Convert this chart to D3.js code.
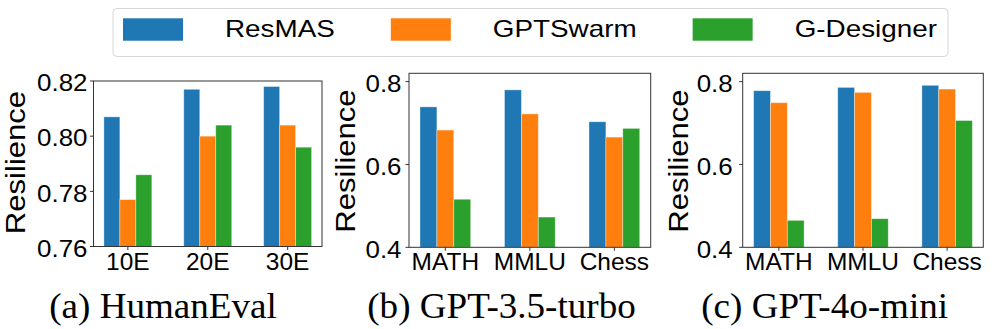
<!DOCTYPE html>
<html>
<head>
<meta charset="utf-8">
<script src="https://cdn.jsdelivr.net/npm/d3@7"></script>
<style>
  html, body { margin: 0; padding: 0; background: #fff; }
  svg { display: block; }
</style>
</head>
<body>
<svg id="chart" width="996" height="329"></svg>
<script>
// ---------------- DATA ----------------
const seriesNames = ["ResMAS", "GPTSwarm", "G-Designer"];
const seriesColors = ["#1f77b4", "#ff7f0e", "#2ca02c"];

const humanEvalCategories = ["10E", "20E", "30E"];
const humanEvalResMAS    = [0.807, 0.817, 0.818];
const humanEvalGPTSwarm  = [0.777, 0.800, 0.804];
const humanEvalGDesigner = [0.786, 0.804, 0.796];
const humanEvalTicks = [0.76, 0.78, 0.80, 0.82];

const taskCategories = ["MATH", "MMLU", "Chess"];
const gpt35ResMAS    = [0.739, 0.780, 0.703];
const gpt35GPTSwarm  = [0.683, 0.722, 0.666];
const gpt35GDesigner = [0.516, 0.473, 0.687];

const gpt4oResMAS    = [0.778, 0.786, 0.791];
const gpt4oGPTSwarm  = [0.749, 0.774, 0.782];
const gpt4oGDesigner = [0.465, 0.469, 0.706];
const modelTicks = [0.4, 0.6, 0.8];

const panelTitles = ["(a) HumanEval", "(b) GPT-3.5-turbo", "(c) GPT-4o-mini"];
const yLabel = "Resilience";

// ---------------- LAYOUT ----------------
const panels = [
  { cats: humanEvalCategories, vals: [humanEvalResMAS, humanEvalGPTSwarm, humanEvalGDesigner],
    yDomain: [0.76, 0.82], ticks: humanEvalTicks, fmt: d3.format(".2f"),
    left: 93.5, right: 322, top: 81, bottom: 246.5, tickGap: 6,
    yLabelX: 25, yLabelY: 162.5, titleX: 163 },
  { cats: taskCategories, vals: [gpt35ResMAS, gpt35GPTSwarm, gpt35GDesigner],
    yDomain: [0.4, 0.82], ticks: modelTicks, fmt: d3.format(".1f"),
    left: 409, right: 650.7, top: 73.3, bottom: 247.3, tickGap: 7.5,
    yLabelX: 355, yLabelY: 161, titleX: 501.5 },
  { cats: taskCategories, vals: [gpt4oResMAS, gpt4oGPTSwarm, gpt4oGDesigner],
    yDomain: [0.4, 0.82], ticks: modelTicks, fmt: d3.format(".1f"),
    left: 742.7, right: 983.3, top: 73.3, bottom: 247.3, tickGap: 10,
    yLabelX: 688, yLabelY: 161, titleX: 824.7 }
];

const sansFont = "'Liberation Sans', Arial, Helvetica, sans-serif";
const serifFont = "'Liberation Serif', 'Times New Roman', Times, serif";
const barW = 0.2;

const svg = d3.select("#chart");

panels.forEach((p, pi) => {
  const x = d3.scaleLinear().domain([-0.43, p.cats.length - 1 + 0.43]).range([p.left, p.right]);
  const y = d3.scaleLinear().domain(p.yDomain).range([p.bottom, p.top]);
  const g = svg.append("g");

  // bars
  p.vals.forEach((arr, si) => {
    g.selectAll(null)
      .data(arr)
      .enter()
      .append("rect")
      .attr("x", (d, i) => x(i + (si - 1) * barW - barW / 2))
      .attr("width", x(barW) - x(0))
      .attr("y", d => y(d))
      .attr("height", d => y(p.yDomain[0]) - y(d))
      .attr("fill", seriesColors[si])
      .attr("stroke", "#ffffff")
      .attr("stroke-opacity", 0.45)
      .attr("stroke-width", 0.8);
  });

  // spines
  g.append("rect")
    .attr("x", p.left).attr("y", p.top)
    .attr("width", p.right - p.left).attr("height", p.bottom - p.top)
    .attr("fill", "none").attr("stroke", "#333").attr("stroke-width", 1);

  // y ticks
  p.ticks.forEach(t => {
    g.append("line")
      .attr("x1", p.left - 3.5).attr("x2", p.left)
      .attr("y1", y(t)).attr("y2", y(t))
      .attr("stroke", "#333").attr("stroke-width", 1);
    g.append("text")
      .attr("transform", `translate(${p.left - p.tickGap},${y(t) + 10.3}) scale(1.08,1)`)
      .attr("text-anchor", "end")
      .attr("font-family", sansFont)
      .attr("font-size", 24)
      .attr("fill", "#000")
      .text(p.fmt(t));
  });

  // x ticks
  p.cats.forEach((c, i) => {
    g.append("line")
      .attr("x1", x(i)).attr("x2", x(i))
      .attr("y1", p.bottom).attr("y2", p.bottom + 3.5)
      .attr("stroke", "#333").attr("stroke-width", 1);
    g.append("text")
      .attr("transform", `translate(${x(i)},270) scale(1.02,1)`)
      .attr("text-anchor", "middle")
      .attr("font-family", sansFont)
      .attr("font-size", 24)
      .attr("fill", "#000")
      .text(c);
  });

  // y label
  g.append("text")
    .attr("transform", `translate(${p.yLabelX},${p.yLabelY}) rotate(-90) scale(1.13,1)`)
    .attr("text-anchor", "middle")
    .attr("font-family", sansFont)
    .attr("font-size", 27.5)
    .attr("fill", "#000")
    .text(yLabel);

  // subtitle
  svg.append("text")
    .attr("transform", `translate(${p.titleX},318) scale(1.06,1)`)
    .attr("text-anchor", "middle")
    .attr("font-family", serifFont)
    .attr("font-size", 35)
    .attr("fill", "#000")
    .text(panelTitles[pi]);
});

// ---------------- LEGEND ----------------
const legend = svg.append("g");
legend.append("rect")
  .attr("x", 113).attr("y", 8.5)
  .attr("width", 835).attr("height", 48)
  .attr("rx", 4).attr("ry", 4)
  .attr("fill", "#fff")
  .attr("stroke", "#d6d6d6").attr("stroke-width", 1);

let lx = 123;
seriesNames.forEach((name, i) => {
  legend.append("rect")
    .attr("x", lx).attr("y", 18.3)
    .attr("width", 60).attr("height", 22.4)
    .attr("fill", seriesColors[i]);
  const tx = lx + 102;
  const t = legend.append("text")
    .attr("transform", `translate(${tx},37.3) scale(1.16,1)`)
    .attr("font-family", sansFont)
    .attr("font-size", 24)
    .attr("fill", "#000")
    .text(name);
  const w = t.node().getComputedTextLength() * 1.16;
  lx = tx + w + 56;
});
</script>
</body>
</html>
